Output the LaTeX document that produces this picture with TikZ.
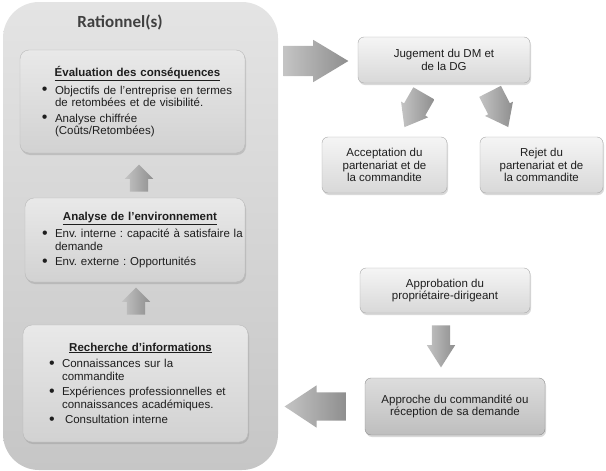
\documentclass[tikz,border=0pt]{standalone}
\usepackage{fontspec}
\setmainfont{Liberation Sans}
\newfontfamily\carlito{Carlito}
\usepackage{xcolor}
\usetikzlibrary{shapes.arrows, positioning, calc, shadows}
\definecolor{PanelTop}{HTML}{E4E4E4}
\definecolor{PanelBottom}{HTML}{C6C6C6}
\definecolor{BoxTop}{HTML}{F5F5F5}
\definecolor{BoxBottom}{HTML}{D8D8D8}
\definecolor{BoxEdge}{HTML}{A8A8A8}
\definecolor{DarkTop}{HTML}{DDDDDD}
\definecolor{DarkBottom}{HTML}{BEBEBE}
\definecolor{ArrowLight}{HTML}{C4C4C4}
\definecolor{ArrowDark}{HTML}{8E8E8E}
\definecolor{Ink}{HTML}{1E1E1E}
\frenchspacing
\hyphenpenalty=10000
\newcommand{\titrebloc}[1]{{\centering\hspace*{10pt}\bfseries\underline{#1}\par}\vspace{1pt}}
\newcommand{\puce}[2][30pt]{\par\vspace{3pt}\leftskip=#1\noindent\hskip-13pt%
    \makebox[13pt][l]{\raisebox{-0.8pt}{\fontsize{16}{16}\selectfont\textbullet}}#2\par}

\begin{document}
\begin{tikzpicture}[x=1pt, y=-1pt,
    cadre/.style={rectangle, rounded corners=9pt, draw=BoxEdge!80, thin, inner xsep=3pt,
          top color=BoxTop!95!black, bottom color=BoxBottom!97!black,
          drop shadow={shadow xshift=1pt, shadow yshift=-2pt, opacity=0.3},
          text=Ink, font=\fontsize{11.5}{12.5}\selectfont, align=left},
    etape/.style={rectangle, rounded corners=6pt, draw=BoxEdge, thin,
          top color=BoxTop, bottom color=BoxBottom,
          drop shadow={shadow xshift=1pt, shadow yshift=-2pt, opacity=0.3},
          text=Ink, font=\fontsize{11.5}{12.5}\selectfont, align=center},
    fleche/.style={single arrow, inner xsep=0pt, draw=none, anchor=tail,
          left color=ArrowLight, right color=ArrowDark,
          single arrow head indent=0pt}]
    \useasboundingbox (0,0) rectangle (606,471);

    % Panel of the rationale
    \node[rounded corners=36pt, top color=PanelTop, bottom color=PanelBottom,
          minimum width=275pt, minimum height=468pt, inner sep=0pt] (rationnel) at (140.5,236) {};
    \node[font=\carlito\bfseries\fontsize{17}{20}\selectfont, text=Ink!85] (titre) at (120,22) {Rationnel(s)};

    \node[cadre, minimum width=225pt, minimum height=103pt, text width=215pt] (evaluation) at (132.5,101.5) {
        \titrebloc{Évaluation des conséquences}
        \puce{Objectifs de l’entreprise en termes\\de retombées et de visibilité.}
        \puce{Analyse chiffrée\\(Coûts/Retombées)}
    };

    \node[cadre, minimum width=220pt, minimum height=84pt, text width=214pt] (analyse) at (135,240) {
        \titrebloc{Analyse de l’environnement}
        \puce[27pt]{\mbox{Env. interne : capacité à satisfaire la}\\demande}
        \puce[27pt]{Env. externe : Opportunités}
    };

    \node[cadre, minimum width=225pt, minimum height=117pt, text width=215pt] (recherche) at (135.5,383.5) {
        \titrebloc{Recherche d’informations}
        \puce[34pt]{Connaissances sur la\\commandite}
        \puce[34pt]{Expériences professionnelles et\\connaissances académiques.}
        \puce[34pt]{\hspace{3pt}Consultation interne}
    };

    % Arrows going up the panel
    \node[fleche, rotate=90, minimum height=27pt, minimum width=28pt, inner ysep=9pt,
          single arrow head extend=5pt, single arrow tip angle=90]
        (monteeA) at ($(analyse.north)+(4,-6)$) {};
    \node[fleche, rotate=90, minimum height=27pt, minimum width=28pt, inner ysep=9pt,
          single arrow head extend=5pt, single arrow tip angle=90]
        (monteeB) at ($(recherche.north)+(0.5,-10)$) {};

    % Decision steps
    \node[etape, minimum width=172pt, minimum height=46pt] (jugement) at (444,60) {Jugement du DM et\\de la DG};
    \node[etape, minimum width=125pt, minimum height=56pt] (acceptation) at (384.5,165) {Acceptation du\\partenariat et de\\la commandite};
    \node[etape, minimum width=123pt, minimum height=56pt] (rejet) at (541.5,165) {Rejet du\\partenariat et de\\la commandite};

    \node[etape, minimum width=170pt, minimum height=45pt] (approbation) at (445,290.5) {Approbation du\\propriétaire-dirigeant};
    \node[etape, top color=DarkTop, bottom color=DarkBottom, draw=BoxEdge!85!black,
          minimum width=180pt, minimum height=57pt] (approche) at (455,406.5) {Approche du commandité ou\\réception de sa demande};

    % Block arrows between steps
    \node[fleche, minimum height=65pt, minimum width=42pt, inner ysep=15pt,
          single arrow head extend=6pt, single arrow tip angle=62]
        (versjugement) at ($(rationnel.east |- jugement.west)+(5,1)$) {};
    \node[fleche, rotate=240, minimum height=39pt, minimum width=31pt, inner ysep=12pt,
          single arrow head extend=3.5pt, single arrow tip angle=75]
        (versacceptation) at ($(jugement.south)+(-20,10)$) {};
    \node[fleche, rotate=297, minimum height=40pt, minimum width=31pt, inner ysep=12pt,
          single arrow head extend=3.5pt, single arrow tip angle=75]
        (versrejet) at ($(jugement.south)+(46,8)$) {};
    \node[fleche, rotate=-90, minimum height=42pt, minimum width=28pt, inner ysep=9pt,
          single arrow head extend=5pt, single arrow tip angle=65]
        (descente) at ($(approbation.south)+(-4,12)$) {};
    \node[fleche, rotate=180, minimum height=62pt, minimum width=42pt, inner ysep=14pt,
          single arrow head extend=7pt, single arrow tip angle=67]
        (retour) at ($(approche.west)+(-18,0)$) {};
\end{tikzpicture}
\end{document}
